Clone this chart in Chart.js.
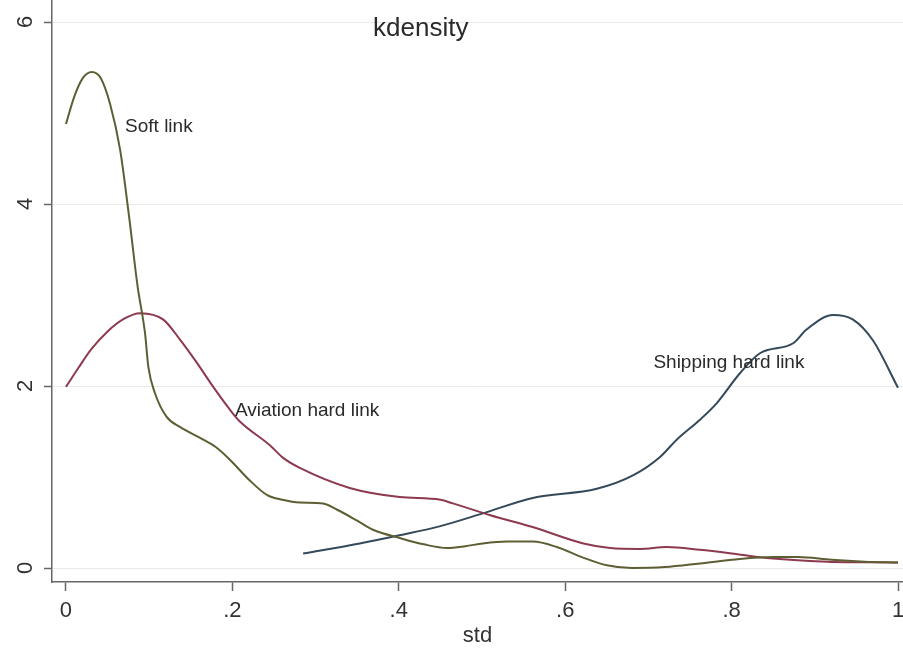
<!DOCTYPE html>
<html>
<head>
<meta charset="utf-8">
<script src="https://cdn.jsdelivr.net/npm/chart.js@4"></script>
<style>
  html, body { margin: 0; padding: 0; background: #fff; }
  #wrap { width: 903px; height: 649px; }
</style>
</head>
<body>
<div id="wrap"><canvas id="myChart"></canvas></div>
<script>
// kernel density curves (x = std, y = density)
const softX = [0, 0.01, 0.02, 0.031, 0.042, 0.053, 0.065, 0.076, 0.086, 0.095, 0.099, 0.107, 0.121, 0.137, 0.165, 0.18, 0.197, 0.22, 0.242, 0.26, 0.281, 0.309, 0.326, 0.35, 0.369, 0.401, 0.43, 0.458, 0.48, 0.501, 0.53, 0.561, 0.59, 0.62, 0.65, 0.68, 0.72, 0.762, 0.81, 0.85, 0.88, 0.92, 0.96, 1];
const softY = [4.88, 5.18, 5.38, 5.45, 5.38, 5.1, 4.6, 3.85, 3.1, 2.58, 2.21, 1.92, 1.66, 1.55, 1.41, 1.33, 1.19, 0.97, 0.8, 0.75, 0.72, 0.71, 0.64, 0.52, 0.42, 0.33, 0.26, 0.22, 0.24, 0.27, 0.29, 0.29, 0.23, 0.12, 0.03, 0, 0.01, 0.05, 0.1, 0.12, 0.12, 0.09, 0.07, 0.06];

const aviX = [0, 0.015, 0.03, 0.05, 0.07, 0.089, 0.117, 0.137, 0.157, 0.177, 0.197, 0.209, 0.245, 0.261, 0.281, 0.341, 0.401, 0.45, 0.465, 0.51, 0.561, 0.622, 0.654, 0.69, 0.722, 0.762, 0.8, 0.842, 0.915, 1];
const aviY = [1.99, 2.2, 2.4, 2.6, 2.74, 2.8, 2.73, 2.51, 2.26, 1.99, 1.74, 1.61, 1.35, 1.21, 1.1, 0.88, 0.78, 0.75, 0.71, 0.58, 0.45, 0.27, 0.22, 0.21, 0.23, 0.2, 0.16, 0.11, 0.07, 0.06];

const shipX = [0.285, 0.353, 0.401, 0.45, 0.501, 0.561, 0.638, 0.682, 0.714, 0.734, 0.762, 0.782, 0.81, 0.834, 0.874, 0.89, 0.922, 0.946, 0.97, 1];
const shipY = [0.16, 0.27, 0.36, 0.46, 0.6, 0.77, 0.87, 1.02, 1.22, 1.41, 1.63, 1.81, 2.14, 2.36, 2.47, 2.62, 2.78, 2.73, 2.5, 1.98];

const xTicks = [0, 0.2, 0.4, 0.6, 0.8, 1];
const yTicks = [0, 2, 4, 6];

// text placed in the plot, anchored at data coordinates
const notes = [
    { text: "kdensity", x: 0.369, y: 5.93, size: 26 },
    { text: "Soft link", x: 0.071, y: 4.85, size: 19 },
    { text: "Aviation hard link", x: 0.203, y: 1.73, size: 19 },
    { text: "Shipping hard link", x: 0.706, y: 2.26, size: 19 }
];

const FONT = "'Liberation Sans', Arial, sans-serif";

function toPoints(xs, ys) {
    return xs.map((x, i) => ({ x: x, y: ys[i] }));
}

function stataLabel(v) {
    // Stata writes .2 instead of 0.2
    return String(v).replace(/^0\./, ".");
}

const notesPlugin = {
    id: "notes",
    afterDatasetsDraw(chart) {
        const ctx = chart.ctx;
        const xs = chart.scales.x;
        const ys = chart.scales.y;
        ctx.save();
        ctx.fillStyle = "#2a2a2a";
        ctx.textAlign = "left";
        ctx.textBaseline = "middle";
        notes.forEach(n => {
            ctx.font = n.size + "px " + FONT;
            ctx.fillText(n.text, xs.getPixelForValue(n.x), ys.getPixelForValue(n.y));
        });
        ctx.restore();
    }
};

const canvas = document.getElementById("myChart");
const context = canvas.getContext("2d");

new Chart(context, {
    type: "line",
    data: {
        datasets: [
            { label: "Soft link", data: toPoints(softX, softY), borderColor: "#5e5e34" },
            { label: "Aviation hard link", data: toPoints(aviX, aviY), borderColor: "#8e3a4e" },
            { label: "Shipping hard link", data: toPoints(shipX, shipY), borderColor: "#34495a" }
        ]
    },
    options: {
        responsive: true,
        maintainAspectRatio: false,
        animation: false,
        layout: { padding: 0 },
        elements: {
            point: { radius: 0 },
            line: { borderWidth: 2, cubicInterpolationMode: "monotone", fill: false }
        },
        plugins: {
            legend: { display: false },
            title: { display: false },
            tooltip: { enabled: false }
        },
        scales: {
            x: {
                type: "linear",
                min: -0.0168,
                max: 1.006,
                afterBuildTicks: s => { s.ticks = xTicks.map(v => ({ value: v })); },
                afterFit: s => { s.height = 67; s.paddingLeft = 0; s.paddingRight = 0; },
                border: { color: "#666", width: 1.5 },
                grid: { drawOnChartArea: false, tickLength: 9, tickColor: "#666", tickWidth: 1.5 },
                ticks: {
                    padding: 7,
                    color: "#333",
                    font: { family: FONT, size: 22 },
                    callback: v => stataLabel(v)
                },
                title: {
                    display: true,
                    text: "std",
                    color: "#333",
                    font: { family: FONT, size: 22 },
                    padding: 0
                }
            },
            y: {
                type: "linear",
                min: -0.1538,
                max: 6.2418,
                afterBuildTicks: s => { s.ticks = yTicks.map(v => ({ value: v })); },
                afterFit: s => { s.width = 52; s.paddingTop = 0; s.paddingBottom = 0; },
                border: { color: "#666", width: 1.5 },
                grid: { color: "#e9e9e9", lineWidth: 1, tickLength: 8, tickColor: "#666", tickWidth: 1.5 },
                ticks: {
                    minRotation: 90,
                    maxRotation: 90,
                    crossAlign: "center",
                    padding: 12,
                    color: "#333",
                    font: { family: FONT, size: 22 },
                    callback: v => stataLabel(v)
                }
            }
        }
    },
    plugins: [notesPlugin]
});
</script>
</body>
</html>
